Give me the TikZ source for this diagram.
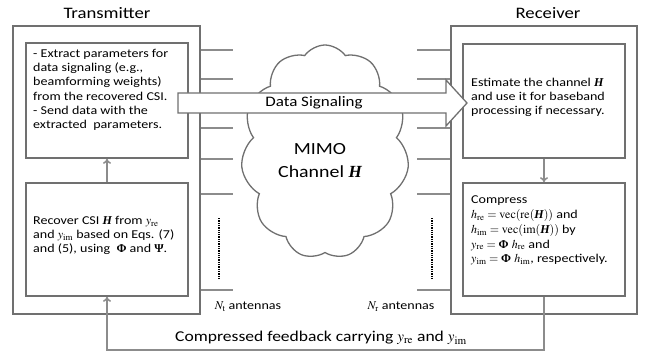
\documentclass[tikz,border=0pt]{standalone}
\usepackage{amsmath}
\usepackage{mathptmx}
\usepackage[no-math]{fontspec}
\setmainfont{Carlito}[FakeStretch=1.17]
\newfontfamily\tnr{Liberation Serif}
\newcommand{\vH}{\text{\tnr\bfseries\itshape H}}
\newcommand{\vPhi}{\text{\tnr\bfseries Φ}}
\newcommand{\vPsi}{\text{\tnr\bfseries Ψ}}
\usetikzlibrary{arrows.meta,shapes.symbols}
\definecolor{boxgray}{RGB}{112,112,112}
\definecolor{linegray}{RGB}{140,140,140}

\begin{document}
\begin{tikzpicture}[x=1pt,y=-1pt,>={To[length=5pt,width=8pt]},
	box/.style = {draw=boxgray,line width=1.6pt,rectangle,inner sep=0pt},
	ant/.style = {draw=linegray,line width=1.6pt},
	txt/.style = {font=\fontsize{12}{14.2}\selectfont,align=left,anchor=north west,inner sep=0pt}
	]
	\useasboundingbox (0,0) rectangle (650,358);
	%TITOLI
	\node[font=\fontsize{16}{18}\selectfont] (txtitle) at (107,13) {Transmitter};
	\node[font=\fontsize{16}{18}\selectfont] (rxtitle) at (548,13) {Receiver};
	%BOX
	\node[box,minimum width=187pt,minimum height=288pt] (tx) at (106.5,170) {};
	\node[box,minimum width=162pt,minimum height=115pt] (txtop) at (107,100.5) {};
	\node[box,minimum width=162pt,minimum height=113pt] (txbot) at (107,239.5) {};
	\node[box,minimum width=186pt,minimum height=288pt] (rx) at (544,170) {};
	\node[box,minimum width=162pt,minimum height=114pt] (rxtop) at (544,101) {};
	\node[box,minimum width=162pt,minimum height=113pt] (rxbot) at (544,239.5) {};
	%ANTENNE
	\foreach \y in {50,79,128,159,194,290} {
		\draw[ant] (tx.east |- 0,\y) -- ++(32,0);
		\draw[ant] (rx.west |- 0,\y) -- ++(-33,0);
	}
	\draw[densely dotted,line width=1.3pt] (219,218) -- (219,279);
	\draw[densely dotted,line width=1.3pt] (432,218) -- (432,279);
	\node[font=\fontsize{12}{14}\selectfont] (nt) at (248,307) {$N_{\mathrm{t}}$ antennas};
	\node[font=\fontsize{12}{14}\selectfont] (nr) at (401,307) {$N_{\mathrm{r}}$ antennas};
	%CANALE
	\node[cloud,draw=boxgray,line width=1.3pt,fill=white,cloud puffs=11,cloud puff arc=110,
		aspect=0.8,minimum width=168pt,minimum height=214pt] (chan) at (325,152) {};
	\node[font=\fontsize{17}{23}\selectfont,align=center] (chantxt) at (320,161) {MIMO\\Channel $\vH$};
	%DATA SIGNALING
	\draw[boxgray,line width=1.3pt,fill=white] (178,93) -- (446,93) -- (446,80) -- (467,103)
		-- (446,126) -- (446,113) -- (178,113) -- cycle;
	\node[font=\fontsize{14.5}{16}\selectfont] (dsig) at (314,103) {Data Signaling};
	%TESTI
	\node[txt] (txtoptxt) at (33,49) {- Extract parameters for\\data signaling (e.g.,\\beamforming weights)\\from the recovered CSI.\\- Send data with the\\extracted\ \ parameters.};
	\node[txt] (txbottxt) at (33,216) {Recover CSI $\vH$ from $y_{\mathrm{re}}$\\and $y_{\mathrm{im}}$ based on Eqs. (7)\\and (5), using\ \ $\vPhi$ and $\vPsi$.};
	\node[txt] (rxtoptxt) at (471,78) {Estimate the channel $\vH$\\and use it for baseband\\processing if necessary.};
	\node[txt,font=\fontsize{12}{14.7}\selectfont] (rxbottxt) at (471,196) {Compress\\$h_{\mathrm{re}}=\mathrm{vec}(\mathrm{re}(\vH))$ and\\$h_{\mathrm{im}}=\mathrm{vec}(\mathrm{im}(\vH))$ by\\$y_{\mathrm{re}}=\vPhi\ h_{\mathrm{re}}$ and\\$y_{\mathrm{im}}=\vPhi\ h_{\mathrm{im}}$, respectively.};
	%FRECCE
	\draw[->,ant] (txbot) -- (txtop);
	\draw[->,ant] (rxtop) -- (rxbot);
	\coordinate (fb) at (0,350);
	\draw[->,ant] (rxbot.south) -- (rxbot.south |- fb) -- (txbot.south |- fb) -- (txbot.south);
	\node[font=\fontsize{15}{17}\selectfont] (fbtxt) at (321,338) {Compressed feedback carrying $y_{\mathrm{re}}$ and $y_{\mathrm{im}}$};
\end{tikzpicture}
\end{document}
